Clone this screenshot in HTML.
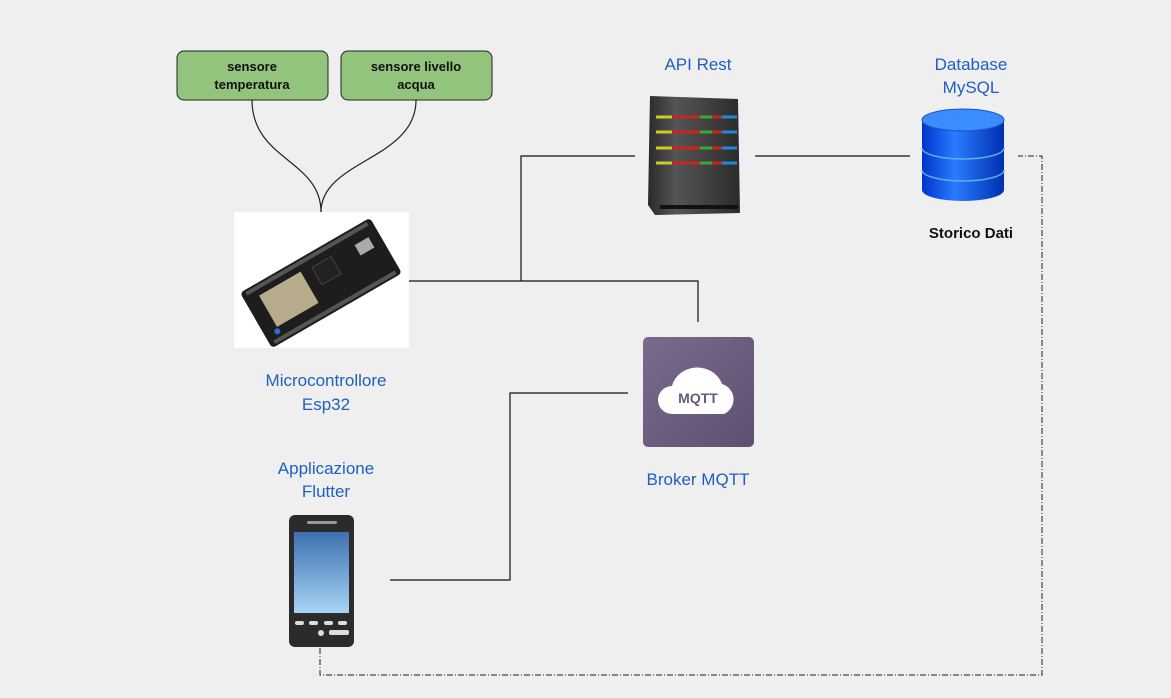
<!DOCTYPE html>
<html><head><meta charset="utf-8"><style>
html,body{margin:0;padding:0;background:#efefef;}
svg{display:block}
text{font-family:"Liberation Sans",Arial,sans-serif}
</style></head><body>
<svg width="1171" height="698" viewBox="0 0 1171 698" xmlns="http://www.w3.org/2000/svg">
<defs>
<linearGradient id="srv" x1="0" x2="1"><stop offset="0" stop-color="#2a2a2a"/><stop offset="0.3" stop-color="#555"/><stop offset="1" stop-color="#2b2b2b"/></linearGradient>
<linearGradient id="db" x1="0" x2="1"><stop offset="0" stop-color="#0033cc"/><stop offset="0.4" stop-color="#2a7bff"/><stop offset="1" stop-color="#0030b0"/></linearGradient>
<linearGradient id="scr" x1="0" y1="0" x2="0" y2="1"><stop offset="0" stop-color="#3d70b0"/><stop offset="1" stop-color="#a8d4f5"/></linearGradient>
<linearGradient id="mq" x1="0" y1="0" x2="1" y2="1"><stop offset="0" stop-color="#7a6a8c"/><stop offset="1" stop-color="#5f4f70"/></linearGradient>
</defs>
<rect width="1171" height="698" fill="#efefef"/>

<!-- sensors -->
<rect x="177" y="51" width="151" height="49" rx="7" fill="#93c47d" stroke="#222" stroke-width="1"/>
<text x="252" y="71" text-anchor="middle" font-size="13" font-weight="bold" fill="#111">sensore</text>
<text x="252" y="89" text-anchor="middle" font-size="13" font-weight="bold" fill="#111">temperatura</text>
<rect x="341" y="51" width="151" height="49" rx="7" fill="#93c47d" stroke="#222" stroke-width="1"/>
<text x="416" y="71" text-anchor="middle" font-size="13" font-weight="bold" fill="#111">sensore livello</text>
<text x="416" y="89" text-anchor="middle" font-size="13" font-weight="bold" fill="#111">acqua</text>
<path d="M252 100 C252 160 321 160 321 212" fill="none" stroke="#222" stroke-width="1.2"/>
<path d="M416 100 C416 160 321 160 321 212" fill="none" stroke="#222" stroke-width="1.2"/>

<!-- ESP32 -->
<rect x="234" y="212" width="175" height="136" fill="#fff"/>
<g transform="translate(321,283) rotate(-30)">
<rect x="-75" y="-32" width="150" height="64" rx="4" fill="#1d1d1d"/>
<rect x="-60" y="-20" width="48" height="36" fill="#b8ab8c"/>
<rect x="0" y="-18" width="22" height="20" fill="#222" stroke="#444"/>
<rect x="48" y="-16" width="16" height="12" fill="#aaa"/>
<rect x="-70" y="-30" width="140" height="4" fill="#555"/>
<rect x="-70" y="26" width="140" height="4" fill="#555"/>
<circle cx="-62" cy="20" r="3" fill="#2a6fd6"/>
</g>
<text x="326" y="386" text-anchor="middle" font-size="17" fill="#1f5fbf">Microcontrollore</text>
<text x="326" y="410" text-anchor="middle" font-size="17" fill="#1f5fbf">Esp32</text>

<!-- connectors -->
<g fill="none" stroke="#111" stroke-width="1.2">
<path d="M409 281 H698 V322"/>
<path d="M521 281 V156 H635"/>
<path d="M755 156 H910"/>
<path d="M390 580 H510 V393 H628"/>
</g>
<path d="M320 648 V675 H1042 V156 H1018" fill="none" stroke="#222" stroke-width="1" stroke-dasharray="6 2 1 2"/>

<!-- server -->
<text x="698" y="70" text-anchor="middle" font-size="17" fill="#1f5fbf">API Rest</text>
<path d="M650 96 L738 99 L740 213 L655 215 L648 205 Z" fill="url(#srv)"/>
<g stroke-width="3">
<line x1="656" y1="117" x2="737" y2="117" stroke="#c22"/><line x1="656" y1="117" x2="672" y2="117" stroke="#cc2"/><line x1="700" y1="117" x2="712" y2="117" stroke="#3a3"/><line x1="722" y1="117" x2="737" y2="117" stroke="#28d"/>
<line x1="656" y1="132" x2="737" y2="132" stroke="#c22"/><line x1="656" y1="132" x2="672" y2="132" stroke="#cc2"/><line x1="700" y1="132" x2="712" y2="132" stroke="#3a3"/><line x1="722" y1="132" x2="737" y2="132" stroke="#28d"/>
<line x1="656" y1="148" x2="737" y2="148" stroke="#c22"/><line x1="656" y1="148" x2="672" y2="148" stroke="#cc2"/><line x1="700" y1="148" x2="712" y2="148" stroke="#3a3"/><line x1="722" y1="148" x2="737" y2="148" stroke="#28d"/>
<line x1="656" y1="163" x2="737" y2="163" stroke="#c22"/><line x1="656" y1="163" x2="672" y2="163" stroke="#cc2"/><line x1="700" y1="163" x2="712" y2="163" stroke="#3a3"/><line x1="722" y1="163" x2="737" y2="163" stroke="#28d"/>
</g>
<rect x="660" y="205" width="78" height="4" fill="#111"/>

<!-- database -->
<text x="971" y="70" text-anchor="middle" font-size="17" fill="#1f5fbf">Database</text>
<text x="971" y="93" text-anchor="middle" font-size="17" fill="#1f5fbf">MySQL</text>
<path d="M922 120 V190 A41 11 0 0 0 1004 190 V120 Z" fill="url(#db)"/>
<ellipse cx="963" cy="120" rx="41" ry="11" fill="#3b8cff" stroke="#1a4fd0"/>
<path d="M922 148 A41 11 0 0 0 1004 148" fill="none" stroke="#5ab0e0" stroke-width="1.5"/>
<path d="M922 170 A41 11 0 0 0 1004 170" fill="none" stroke="#5ab0e0" stroke-width="1.5"/>
<text x="971" y="238" text-anchor="middle" font-size="15" font-weight="bold" fill="#111">Storico Dati</text>

<!-- MQTT -->
<rect x="643" y="337" width="111" height="110" rx="5" fill="url(#mq)"/>
<path d="M672 414 A14 14 0 0 1 672 386 A26 24 0 0 1 722 384 A16 16 0 0 1 724 414 Z" fill="#fff"/>
<text x="698" y="403" text-anchor="middle" font-size="14" font-weight="bold" fill="#6a5a7a">MQTT</text>
<text x="698" y="485" text-anchor="middle" font-size="17" fill="#1f5fbf">Broker MQTT</text>

<!-- phone -->
<text x="326" y="474" text-anchor="middle" font-size="17" fill="#1f5fbf">Applicazione</text>
<text x="326" y="497" text-anchor="middle" font-size="17" fill="#1f5fbf">Flutter</text>
<rect x="289" y="515" width="65" height="132" rx="6" fill="#2b2b2b"/>
<rect x="294" y="532" width="55" height="81" fill="url(#scr)"/>
<rect x="307" y="521" width="30" height="3" rx="1.5" fill="#999"/>
<g fill="#ddd"><rect x="295" y="621" width="9" height="4" rx="2"/><rect x="309" y="621" width="9" height="4" rx="2"/><rect x="324" y="621" width="9" height="4" rx="2"/><rect x="338" y="621" width="9" height="4" rx="2"/>
<circle cx="321" cy="633" r="3"/><rect x="329" y="630" width="20" height="5" rx="2"/></g>
</svg>
</body></html>
